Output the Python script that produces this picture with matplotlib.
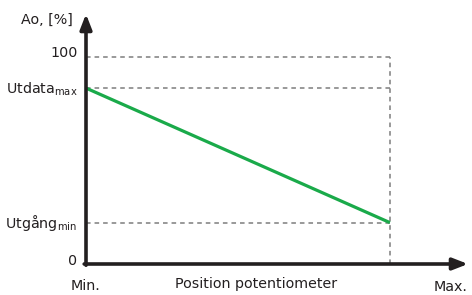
import matplotlib.pyplot as plt

# Values
pos = [0, 100]             # position potentiometer, Min. -> Max.
ao = [85, 20]              # output, [%]
y_ticks = [0, 20, 85, 100]
y_labels = ["0", r"Utgång$_{\mathregular{min}}$", r"Utdata$_{\mathregular{max}}$", "100"]
y_label_nudge = [1.9, 0, 0, 2.4]   # small vertical shifts of the labels, data units

plt.rcParams['font.family'] = ['DejaVu Sans']
plt.rcParams['mathtext.default'] = 'regular'

fig = plt.figure(figsize=(4.72, 2.95), dpi=100)
ax = fig.add_axes([86 / 472, 31 / 295, 382 / 472, 250 / 295])
ax.set_xlim(0, 125.7)
ax.set_ylim(0, 120.8)
ax.set_axis_off()

dark = "#231f20"
grey = "#7d7d7d"
fs = 10.3

# dashed guides
for y in [100, ao[0], ao[1]]:
    ax.plot([0, pos[1]], [y, y], color=grey, lw=1.1, ls=(0, (3, 2.6)), clip_on=False)
ax.plot([pos[1], pos[1]], [0, 100], color=grey, lw=1.1, ls=(0, (3, 2.6)), clip_on=False)

# green line
ax.plot(pos, ao, color="#1aaa4a", lw=2.3, solid_capstyle="butt", zorder=3)

# axes with arrows
arrow = dict(arrowstyle="-|>,head_length=0.9,head_width=0.35", color=dark, lw=2.6,
             shrinkA=0, shrinkB=0)
ax.annotate("", xy=(125.7, 0), xytext=(-0.6, 0), arrowprops=arrow, annotation_clip=False)
ax.annotate("", xy=(0, 120.8), xytext=(0, -0.6), arrowprops=arrow, annotation_clip=False)

# tick labels (baseline placed so the main text is centred on its level)
for v, lab, dv in zip(y_ticks, y_labels, y_label_nudge):
    ax.text(-2.8, v + dv - 2.5, lab, ha="right", va="baseline", fontsize=fs, color=dark)

ax.text(-4.4, 117.9, "Ao, [%]", ha="right", va="center", fontsize=fs, color=dark)
ax.text(0, -10.6, "Min.", ha="center", va="center", fontsize=fs, color=dark)
ax.text(55.9, -9.9, "Position potentiometer", ha="center", va="center",
        fontsize=fs, color=dark)
ax.text(120.0, -11.1, "Max.", ha="center", va="center", fontsize=fs, color=dark)

fig.savefig("out.png", dpi=100)
